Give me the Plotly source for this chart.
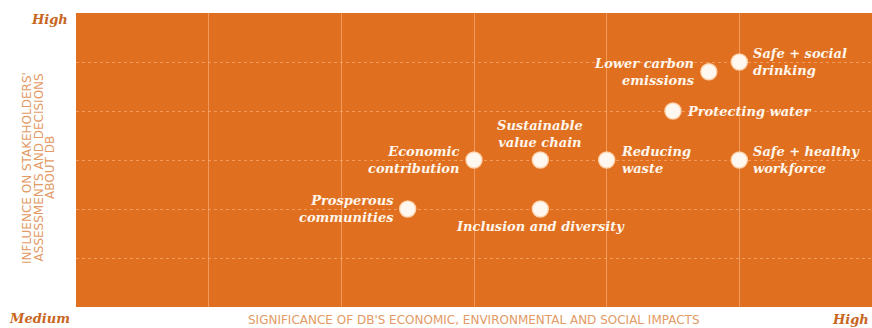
import plotly.graph_objects as go

topics = ["Safe + social<br>drinking", "Lower carbon<br>emissions", "Protecting water",
          "Reducing<br>waste", "Safe + healthy<br>workforce", "Sustainable<br>value chain",
          "Economic<br>contribution", "Prosperous<br>communities", "Inclusion and diversity"]
significance = [5.0, 4.77, 4.5, 4.0, 5.0, 3.5, 3.0, 2.5, 3.5]
influence = [5.0, 4.8, 4.0, 3.0, 3.0, 3.0, 3.0, 2.0, 2.0]
label_side = ["right", "left", "right", "right", "right", "top", "left", "left", "bottom"]
y_title_lines = ["INFLUENCE ON STAKEHOLDERS'", "ASSESSMENTS AND DECISIONS", "ABOUT DB"]
x_title = "SIGNIFICANCE OF DB'S ECONOMIC, ENVIRONMENTAL AND SOCIAL IMPACTS"

ORANGE = "#E07020"
GRID = "rgba(255,190,140,0.55)"
LABEL_ORANGE = "#C8661F"
TITLE_ORANGE = "#E39A66"
FONT_LABEL = "DejaVu Serif"

fig = go.Figure()
fig.add_trace(go.Scatter(
    x=significance, y=influence, mode="markers",
    marker=dict(size=16, color="#FFF8F0", line=dict(color="rgba(255,215,180,0.9)", width=1.5)),
    hoverinfo="text", text=topics, showlegend=False,
))

for t, xv, yv, side in zip(topics, significance, influence, label_side):
    a = dict(x=xv, y=yv, xref="x", yref="y", text="<b><i>" + t + "</i></b>", showarrow=False,
             font=dict(family=FONT_LABEL, size=13, color="#FFF6EC"))
    if side == "right":
        a.update(xanchor="left", yanchor="middle", xshift=12, align="left")
    elif side == "left":
        a.update(xanchor="right", yanchor="middle", xshift=-12, align="right")
    elif side == "top":
        a.update(xanchor="center", yanchor="bottom", yshift=8, align="center")
    else:
        a.update(xanchor="center", yanchor="top", yshift=-8, align="center")
    fig.add_annotation(**a)

corner = dict(family=FONT_LABEL, size=13, color=LABEL_ORANGE)
fig.add_annotation(x=0, y=1, xref="paper", yref="paper", xanchor="right", yanchor="middle",
                   xshift=-7, yshift=-6, borderpad=0, text="<b><i>High</i></b>", showarrow=False, font=corner)
fig.add_annotation(x=0, y=0, xref="paper", yref="paper", xanchor="right", yanchor="middle",
                   xshift=-5, yshift=-11, borderpad=0, text="<b><i>Medium</i></b>", showarrow=False, font=corner)
fig.add_annotation(x=1, y=0, xref="paper", yref="paper", xanchor="right", yanchor="middle",
                   xshift=-2, yshift=-12, borderpad=0, text="<b><i>High</i></b>", showarrow=False, font=corner)

fig.add_annotation(x=0.5, y=0, xref="paper", yref="paper", xanchor="center", yanchor="middle",
                   yshift=-13, borderpad=0, showarrow=False, text=x_title,
                   font=dict(family="DejaVu Sans", size=12, color=TITLE_ORANGE))
for i, line in enumerate(y_title_lines):
    fig.add_annotation(x=0, y=0.473, xref="paper", yref="paper", xanchor="center", yanchor="middle",
                       xshift=-49 + 11.5 * i, textangle=-90, showarrow=False, borderpad=0,
                       text=line, font=dict(family="DejaVu Sans", size=12, color=TITLE_ORANGE))

fig.update_xaxes(range=[0, 6], dtick=1, showticklabels=False, showgrid=True, gridcolor=GRID,
                 gridwidth=1, zeroline=False, showline=False, fixedrange=True)
fig.update_yaxes(range=[0, 6], dtick=1, showticklabels=False, showgrid=True, gridcolor=GRID,
                 gridwidth=1, griddash="dot", zeroline=False, showline=False, fixedrange=True)

fig.update_layout(width=872, height=328, margin=dict(l=76, r=0, t=13, b=21),
                  plot_bgcolor=ORANGE, paper_bgcolor="white")

fig.write_html("out.html")
